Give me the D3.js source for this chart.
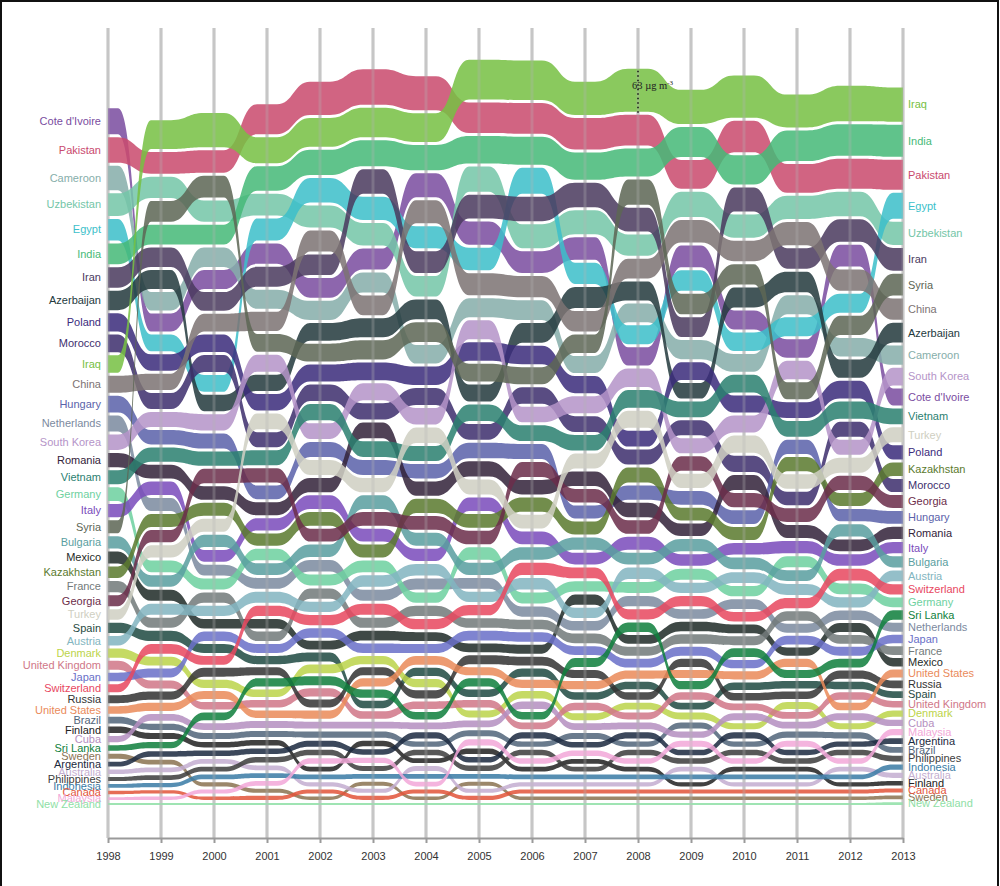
<!DOCTYPE html>
<html>
<head>
<meta charset="utf-8">
<script src="https://cdn.jsdelivr.net/npm/d3@7"></script>
<style>
body { margin: 0; background: #fff; }
svg { display: block; font-family: Arial, "Liberation Sans", sans-serif; }
.grid line { stroke: #c6c6c6; stroke-width: 3; }
.grid.over line { stroke-opacity: 0.3; }
.axis path, .axis line { stroke: #9a9a9a; stroke-width: 2; }
.axis text { font-size: 11px; fill: #333; }
.label { font-size: 11px; }
</style>
</head>
<body>
<div id="chart"></div>
<script>
var years = [1998, 1999, 2000, 2001, 2002, 2003, 2004, 2005, 2006, 2007, 2008, 2009, 2010, 2011, 2012, 2013];

var countries = ["Cote d'Ivoire", "Pakistan", "Cameroon", "Uzbekistan", "Egypt", "India", "Iran", "Azerbaijan",
    "Poland", "Morocco", "Iraq", "China", "Hungary", "Netherlands", "South Korea", "Romania", "Vietnam",
    "Germany", "Italy", "Syria", "Bulgaria", "Mexico", "Kazakhstan", "France", "Georgia", "Turkey", "Spain",
    "Austria", "Denmark", "United Kingdom", "Japan", "Switzerland", "Russia", "United States", "Brazil",
    "Finland", "Cuba", "Sri Lanka", "Sweden", "Argentina", "Australia", "Philippines", "Indonesia", "Canada",
    "Malaysia", "New Zealand"];

var colors = ["#7a4d9f", "#c94a6e", "#86aeaa", "#74c6a8", "#3cbfca", "#46b978", "#4b3a5e", "#243a3e",
    "#3b2c7c", "#3e2f6e", "#77c043", "#7d7373", "#5b62aa", "#7c8aa0", "#b594c8", "#33233a", "#2b8070",
    "#6ed1a0", "#7a4cbb", "#5d6655", "#5a9ea0", "#1f2b28", "#5b7a2e", "#727a7a", "#6b2d4a", "#cfcfc2", "#1f4a42",
    "#82b5c0", "#bcd44a", "#d07788", "#6a70c8", "#e8485f", "#333333", "#ea8a5a", "#52657a",
    "#222222", "#b58fc0", "#0f7f3c", "#8a7352", "#1c2a40", "#c4aed0", "#3d3d3d", "#3a7ca5", "#e2553a",
    "#f2a8d8", "#8fe0a6"];

// mean exposure, µg m-3, one row per country (same order as countries), one column per year
var values = [
    [38, 26.5, 28, 30, 29, 31, 35, 34, 32, 33, 27, 32, 28, 27, 32, 25],          // Cote d'Ivoire
    [37.5, 32, 33, 44, 49, 52, 50, 45, 45, 46, 45, 42, 46, 42, 44, 44],          // Pakistan
    [36, 27, 28.5, 28, 28, 29, 27, 28, 29, 25, 27.5, 28, 26, 28, 27, 28],        // Cameroon
    [33, 31, 31, 32, 32, 33, 30, 37, 35, 35, 31, 37, 34, 34, 36, 34],            // Uzbekistan
    [31.5, 24.5, 24.5, 32, 36, 34, 32, 33, 38, 31, 27.5, 30, 27, 28, 28, 38],    // Egypt
    [30.5, 29, 29, 36, 37, 38, 37, 40, 41, 40, 41, 44, 43, 45, 46, 47],          // India
    [30, 28.5, 27.5, 29, 30, 36, 32, 35, 36, 36, 35, 29, 35, 30, 33, 33.5],      // Iran
    [28.5, 28, 24, 24, 26, 28, 29, 25, 29, 31, 28, 23, 29, 30, 27, 29],          // Azerbaijan
    [27, 24, 25.5, 24, 25, 26, 27, 27, 27, 25, 23, 26, 25, 23, 26, 21],          // Poland
    [26, 23.5, 25, 22, 24, 24, 25, 23, 24, 23, 22, 22, 24, 20, 22, 19.3],        // Morocco
    [25.5, 42, 50, 38, 42, 43, 42, 58, 58, 49, 63, 50, 62, 48, 52, 50],          // Iraq
    [25, 24, 26, 28, 31, 29, 34, 32, 31, 30, 29, 33, 30, 34, 31, 31],            // China
    [24.5, 21, 22, 20, 22, 22, 21, 23, 22, 19, 21, 20, 20, 21, 18, 18.7],        // Hungary
    [23.5, 19, 16, 16, 17, 16, 16, 16, 15, 14, 15, 14, 14, 13, 14, 13],          // Netherlands
    [22.5, 22, 24, 25, 23, 25, 24, 28, 23, 25, 27, 22, 25, 27, 22, 26],          // South Korea
    [21, 20, 20, 19, 21, 23, 21, 22, 21, 21, 21, 18, 22, 19, 17, 18],            // Romania
    [20.5, 21, 21, 22, 24, 23, 22, 24, 23, 23, 26, 23, 26, 23, 25, 23],          // Vietnam
    [20, 17, 16, 17, 16, 17, 15, 18, 16, 15, 16, 16, 15, 16, 16, 14.2],          // Germany
    [19.5, 20, 17, 18, 20, 19, 18, 20, 19, 17, 19, 17, 17, 18, 17, 16.5],        // Italy
    [19, 30.5, 32, 26, 26, 28, 29, 26, 25, 27, 37, 30, 30, 25, 28, 32],          // Syria
    [18, 17, 18, 17, 18, 20, 19, 18, 18, 18, 17, 18, 17, 16, 18, 16.2],          // Bulgaria
    [17.5, 16, 14, 14, 13, 14, 13, 13, 13, 15, 13, 14, 13, 12, 13, 12.4],        // Mexico
    [17, 19, 19, 18, 20, 19, 21, 20, 21, 19, 22, 19, 19, 21, 19, 19.6],          // Kazakhstan
    [16.5, 15, 15, 14, 15, 15, 15, 14, 14, 14, 13, 14, 13, 14, 13, 12.6],        // France
    [16, 18, 21, 21, 19, 20, 20, 20, 22, 20, 20, 21, 21, 20, 21, 19],            // Georgia
    [15.5, 18, 19, 23, 22, 21, 23, 22, 20, 22, 25, 21, 25, 21, 22, 22],          // Turkey
    [15, 15, 13, 12, 13, 11, 12, 11, 12, 11, 11, 10, 11, 11, 11, 10],            // Spain
    [14, 16, 15, 16, 15, 17, 17, 15, 17, 15, 17, 15, 16, 16, 15, 15.9],          // Austria
    [13.5, 13, 12, 11, 13, 12, 12, 10, 11, 10, 10, 10, 9, 10, 9, 9.3],           // Denmark
    [13, 12, 11, 11, 12, 11, 11, 11, 10, 11, 10, 11, 10, 10, 11, 9.5],           // United Kingdom
    [12.5, 13, 14, 13, 14, 14, 13, 14, 14, 13, 13, 13, 12, 13, 13, 12.8],        // Japan
    [12, 14, 13, 15, 15, 16, 15, 15, 18, 16, 15, 15, 14, 15, 17, 15],            // Switzerland
    [11.5, 12, 13, 12, 12, 12, 12, 13, 13, 12, 11, 12, 11, 11, 12, 11],          // Russia
    [11, 12, 12, 11, 12, 12, 13, 12, 12, 12, 12, 12, 12, 12, 11, 12],            // United States
    [10, 9, 9, 9, 9, 9, 8, 9, 8, 9, 8, 9, 8, 9, 9, 8.4],                         // Brazil
    [9.5, 9, 8, 8, 7, 8, 7, 8, 7, 7, 7, 6, 7, 7, 6, 6.5],                        // Finland
    [9, 10, 10, 10, 10, 10, 10, 10, 11, 10, 10, 9, 10, 10, 10, 9.2],             // Cuba
    [8, 9, 11, 12, 13, 12, 11, 12, 11, 13, 14, 12, 13, 12, 13, 14],              // Sri Lanka
    [7.5, 7, 6, 6, 5, 6, 5, 6, 5, 5, 5, 5, 5, 5, 5, 5.5],                        // Sweden
    [7, 8, 8, 8, 9, 8, 9, 8, 9, 8, 9, 8, 9, 8, 8, 8.5],                          // Argentina
    [6.5, 7, 7, 7, 6, 6, 7, 6, 6, 6, 6, 7, 6, 6, 7, 7.5],                        // Australia
    [6, 7, 7, 8, 8, 7, 8, 8, 8, 7, 8, 8, 8, 8, 8, 8.3],                          // Philippines
    [5.5, 6, 7, 7, 7, 7, 7, 7, 7, 7, 7, 7, 7, 7, 7, 8],                          // Indonesia
    [5, 5, 5, 6, 6, 6, 6, 6, 6, 6, 6, 6, 6, 6, 6, 6],                            // Canada
    [4, 5, 6, 7, 8, 8, 7, 9, 8, 8, 8, 9, 8, 9, 8, 9],                            // Malaysia
    [3, 3, 3, 3, 3, 3, 3, 3, 3, 3, 3, 3, 3, 3, 3, 4]                             // New Zealand
];

var hoverCountry = "Iraq";
var hoverYear = 2008;

function init() {
    var w = 1000;
    var h = 886;
    var baseline = 805;   // bottom of the stack
    var gap = 3;          // white space between ribbons
    var flat = 10;        // half width of the flat part around each year

    var xScale = d3.scaleLinear()
        .domain([years[0], years[years.length - 1]])
        .range([108, 903]);

    // thickness of a ribbon in px
    var tScale = d3.scaleLinear()
        .domain([0, 63])
        .range([0, 43]);

    // stack each year, biggest on top, bottom aligned
    var pos = countries.map(function() { return []; });
    years.forEach(function(yr, j) {
        var order = d3.range(countries.length).sort(function(a, b) {
            return values[b][j] - values[a][j];
        });
        var y = baseline;
        for (var k = order.length - 1; k >= 0; k--) {
            var i = order[k];
            var t = tScale(values[i][j]);
            pos[i][j] = { top: y - t, bot: y };
            y = y - t - gap;
        }
    });

    var svg = d3.select("#chart")
        .append("svg")
        .attr("width", w)
        .attr("height", h);

    // frame
    svg.append("path")
        .attr("d", "M1,886V1H998V886")
        .attr("fill", "none")
        .attr("stroke", "#111")
        .attr("stroke-width", 2);

    function yearLines(cls) {
        svg.append("g")
            .attr("class", cls)
            .selectAll("line")
            .data(years)
            .enter()
            .append("line")
            .attr("x1", function(d) { return xScale(d); })
            .attr("x2", function(d) { return xScale(d); })
            .attr("y1", 28)
            .attr("y2", 838);
    }
    yearLines("grid");

    var area = d3.area()
        .x(function(d) { return d.x; })
        .y0(function(d) { return d.top; })
        .y1(function(d) { return d.bot; })
        .curve(d3.curveBumpX);

    var x0 = xScale.range()[0], x1 = xScale.range()[1];
    var ribbons = countries.map(function(c, i) {
        var pts = [];
        years.forEach(function(yr, j) {
            var xc = xScale(yr);
            [xc - flat, xc + flat].forEach(function(x) {
                x = Math.max(x0, Math.min(x1, x));
                if (pts.length && pts[pts.length - 1].x === x) return;
                pts.push({ x: x, top: pos[i][j].top, bot: pos[i][j].bot });
            });
        });
        return { name: c, color: colors[i], pts: pts };
    });

    svg.append("g")
        .selectAll("path")
        .data(ribbons)
        .enter()
        .append("path")
        .attr("d", function(d) { return area(d.pts); })
        .attr("fill", function(d) { return d.color; })
        .attr("fill-opacity", 0.86);

    // year lines show faintly through the ribbons
    yearLines("grid over");

    // labels both sides
    var last = years.length - 1;
    svg.append("g")
        .selectAll("text")
        .data(countries)
        .enter()
        .append("text")
        .attr("class", "label")
        .attr("x", 101)
        .attr("y", function(d, i) { return (pos[i][0].top + pos[i][0].bot) / 2; })
        .attr("dy", "0.35em")
        .attr("text-anchor", "end")
        .attr("fill", function(d, i) { return colors[i]; })
        .text(function(d) { return d; });

    svg.append("g")
        .selectAll("text")
        .data(countries)
        .enter()
        .append("text")
        .attr("class", "label")
        .attr("x", 908)
        .attr("y", function(d, i) { return (pos[i][last].top + pos[i][last].bot) / 2; })
        .attr("dy", "0.35em")
        .attr("fill", function(d, i) { return colors[i]; })
        .text(function(d) { return d; });

    // axis
    var xAxis = d3.axisBottom(xScale)
        .tickValues(years)
        .tickFormat(d3.format("d"))
        .tickSize(5)
        .tickSizeOuter(0)
        .tickPadding(9);

    svg.append("g")
        .attr("class", "axis")
        .attr("transform", "translate(0,838)")
        .call(xAxis);

    // hover readout
    var hi = countries.indexOf(hoverCountry);
    var hj = years.indexOf(hoverYear);
    var hx = xScale(hoverYear);
    svg.append("line")
        .attr("x1", hx).attr("x2", hx)
        .attr("y1", pos[hi][hj].top + 2)
        .attr("y2", pos[hi][hj].bot + 2)
        .attr("stroke", "#111")
        .attr("stroke-width", 1.5)
        .attr("stroke-dasharray", "1.5,3");

    var lbl = svg.append("text")
        .attr("x", hx - 6)
        .attr("y", (pos[hi][hj].top + pos[hi][hj].bot) / 2 - 1)
        .attr("font-family", "'Liberation Serif', 'DejaVu Serif', serif")
        .attr("font-size", 10.5)
        .attr("fill", "#222");
    lbl.append("tspan").text(values[hi][hj] + " µg m");
    lbl.append("tspan").attr("dy", -4).attr("font-size", 7).text("-3");
}
window.onload = init;
</script>
</body>
</html>
